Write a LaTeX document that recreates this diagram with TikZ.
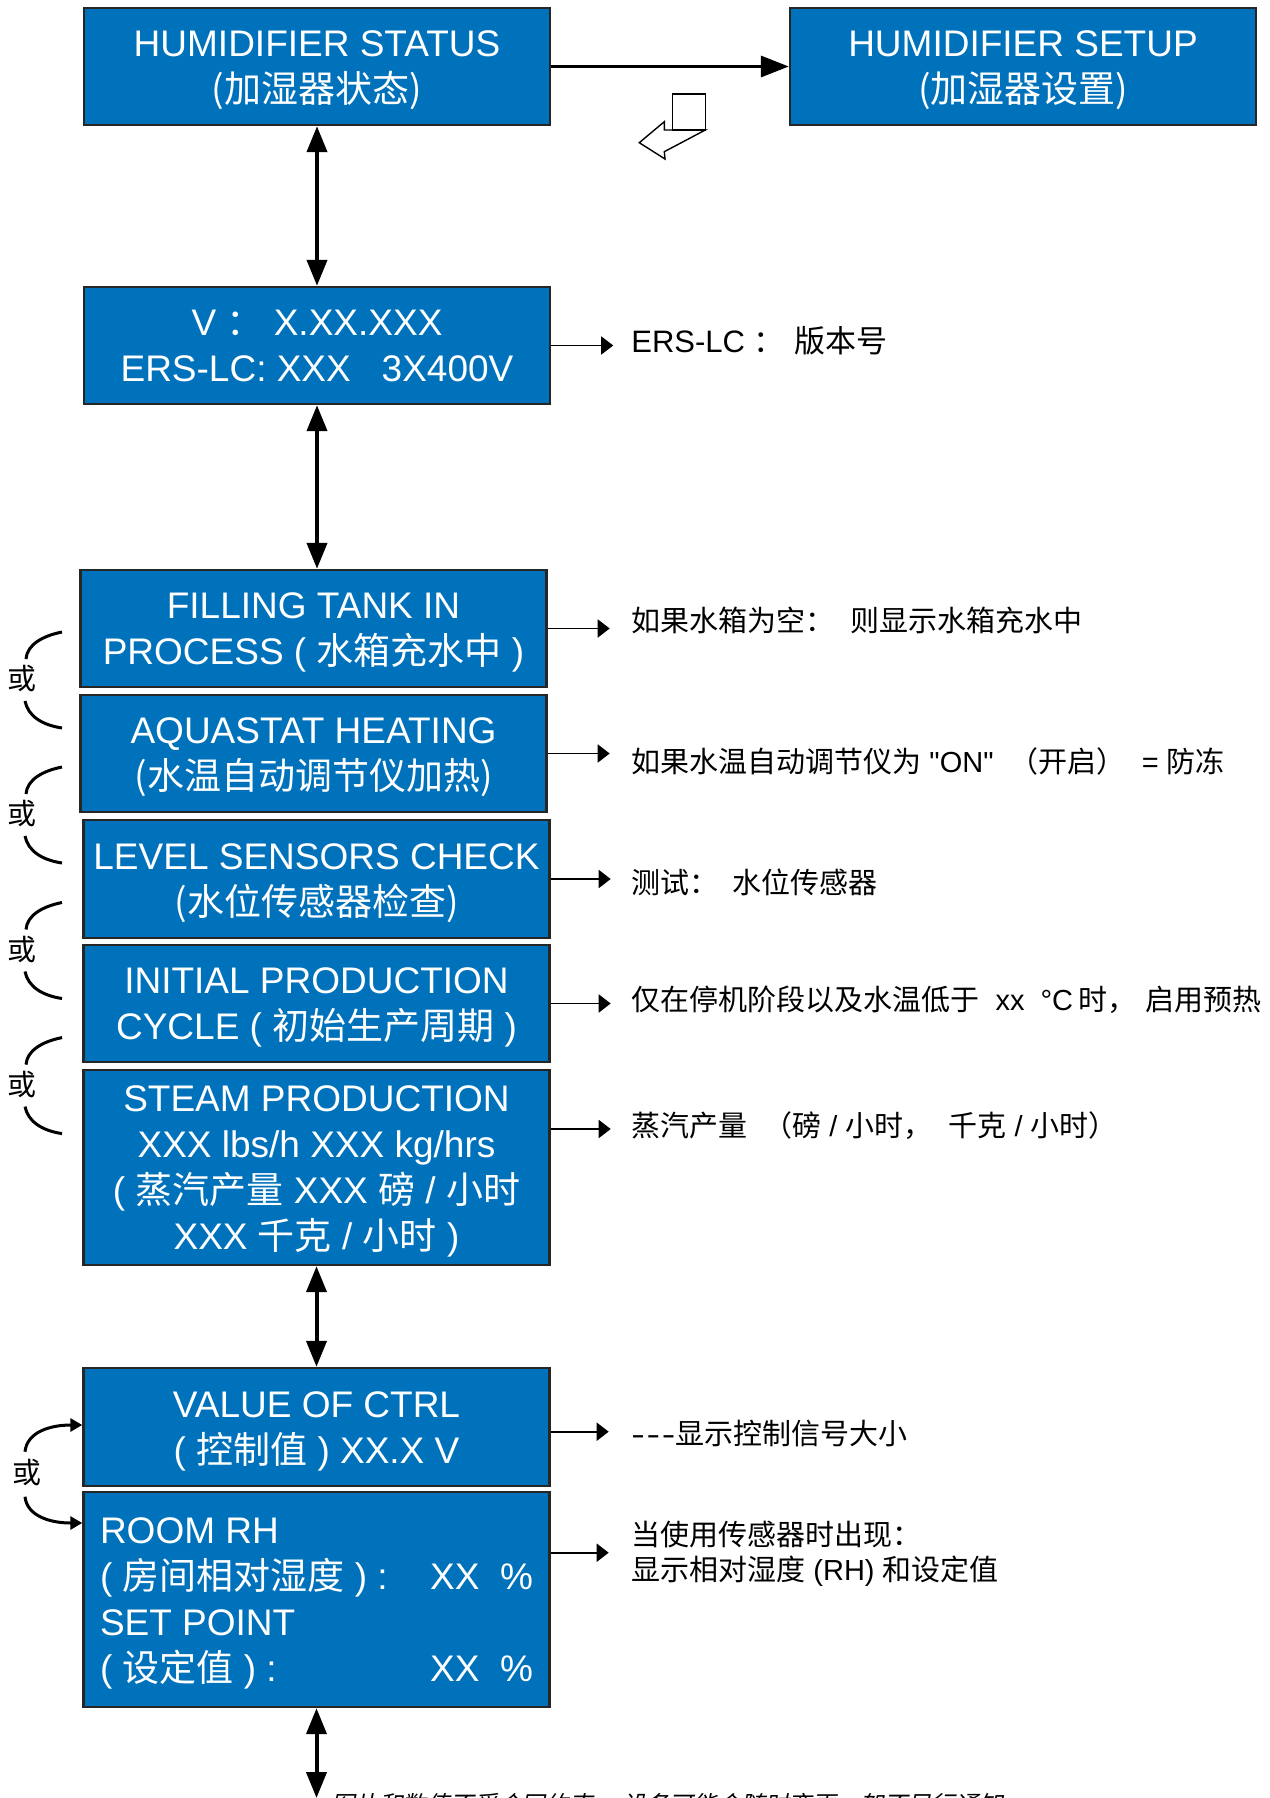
\documentclass[tikz,border=0pt]{standalone}
\usepackage{fontspec}
\setmainfont{Liberation Sans}
\newfontfamily\nolig{Liberation Sans}[Ligatures=TeXOff]
\newfontfamily\cjk{Noto Sans CJK SC}
\newfontfamily\cjkit{Noto Sans CJK SC}[FakeSlant=0.2]
\usetikzlibrary{arrows.meta}
\definecolor{boxblue}{RGB}{0,114,188}
\newcommand\zh[1]{{\cjk #1}}
\begin{document}
\begin{tikzpicture}[x=0.5pt,y=-0.5pt,
  box/.style={draw=black!85, line width=1.2pt, fill=boxblue, text=white,
    inner sep=0pt, minimum width=233pt, minimum height=58.5pt,
    text width=231pt, align=center,
    font=\fontsize{18.5}{23}\selectfont,
    execute at begin node={\centering\spaceskip=0pt\xspaceskip=0pt\rule{0pt}{18pt}},
    execute at end node={\rule[-4.6pt]{0pt}{0pt}}},
  leftbox/.style={box, align=left,
    execute at begin node={\raggedright\spaceskip=0pt\xspaceskip=0pt\rule{0pt}{18pt}}},
  dbl/.style={line width=2pt, {Triangle[length=13pt,width=10pt]}-{Triangle[length=13pt,width=10pt]}},
  onearrow/.style={line width=1.7pt, -{Triangle[length=14pt,width=10.5pt]}},
  sa/.style={line width=0.9pt, -{Triangle[length=6pt,width=9pt]}},
  ca/.style={line width=1.5pt, -{Triangle[length=6pt,width=6.5pt]}},
  br/.style={line width=1.5pt},
  side/.style={anchor=west, inner sep=0pt, align=left, font=\fontsize{14.5}{17.5}\selectfont},
  orlab/.style={inner sep=0pt, font=\cjk\fontsize{14.5}{14.5}\selectfont}
]
\useasboundingbox (0,0) rectangle (1269,1798);

% boxes
\node[box] (b1) at (317,66.5) {HUMIDIFIER STATUS\\\zh{(加湿器状态)}};
\node[box] (b2) at (1023,66.5) {HUMIDIFIER SETUP\\\zh{(加湿器设置)}};
\node[box] (b3) at (317,345.5) {V\ \zh{：}\ X.XX.XXX\\ERS-LC: XXX\ \ \ 3X400V};
\node[box] (b4) at (313.5,628.5) {FILLING TANK IN\\PROCESS ( \zh{水箱充水中} )};
\node[box] (b5) at (313.5,753.5) {AQUASTAT HEATING\\\zh{(水温自动调节仪加热)}};
\node[box, minimum height=59pt] (b6) at (316.5,879) {LEVEL SENSORS CHECK\\\zh{(水位传感器检查)}};
\node[box] (b7) at (316.5,1003.5) {INITIAL PRODUCTION\\CYCLE ( \zh{初始生产周期} )};
\node[box, minimum height=97.5pt] (b8) at (316.5,1167.5) {STEAM PRODUCTION\\XXX lbs/h XXX kg/hrs\\( \zh{蒸汽产量} XXX \zh{磅} / \zh{小时}\\XXX \zh{千克} / \zh{小时} )};
\node[box, minimum height=59pt] (b9) at (316.5,1427) {VALUE OF CTRL\\( \zh{控制值} ) XX.X V};
\node[leftbox, minimum height=107.5pt, text width=216.5pt] (b10) at (316.5,1599.5)
  {ROOM RH\\( \zh{房间相对湿度} ) :\hfill XX\ \ \%\\SET POINT\\( \zh{设定值} ) :\hfill XX\ \ \%};

% main connectors
\draw[onearrow] (b1.east) -- (b2.west);
\draw[dbl] (b1.south) -- (b3.north);
\draw[dbl] (b3.south) -- (b3.south |- b4.north);
\draw[dbl] (b8.south) -- (b9.north);
\coordinate (bot) at (316.5,1798);
\draw[dbl] (b10.south) -- (bot);

% small return icon
\draw[line width=0.7pt] (672.7,94) rectangle (705.3,130);
\draw[line width=0.7pt, line join=miter] (705.3,130) -- (664.3,151.7) -- (665,159) -- (639.3,142.7) -- (664.3,121.7) -- (664.3,130) -- cycle;

% side notes
\node[side, font=\fontsize{15.5}{17.5}\selectfont] (t3) at (631,341) {ERS-LC\ \zh{：}\hspace{5pt}\zh{版本号}};
\node[side] (t4) at (631,620.5) {\zh{如果水箱为空：}\hspace{8pt}\zh{则显示水箱充水中}};
\node[side] (t5) at (631,761) {\zh{如果水温自动调节仪为} {\nolig "ON"}\ \ \zh{（开启）}\ \ =\ \zh{防冻}};
\node[side] (t6) at (631,882.6) {\zh{测试：}\hspace{7pt}\zh{水位传感器}};
\node[side] (t7) at (631,1000) {\zh{仅在停机阶段以及水温低于}\ \ xx\ \ °C\,\zh{时，}\hspace{5pt}\zh{启用预热}};
\node[side] (t8) at (631,1126) {\zh{蒸汽产量}\hspace{8pt}\zh{（磅} / \zh{小时，}\hspace{8pt}\zh{千克} / \zh{小时）}};
\node[side] (t9) at (631,1433) {{\nolig\scalebox{1.4}[1]{-\kern0.6pt-\kern0.6pt-}}\zh{显示控制信号大小}};
\node[side] (t10) at (631,1554) {\zh{当使用传感器时出现：}\\\zh{显示相对湿度} (RH) \zh{和设定值}};

\draw[sa] (b3.east) -- ++(62,0);
\draw[sa] (b4.east) -- ++(62,0);
\draw[sa] (b5.east) -- ++(62,0);
\draw[sa] (b6.east) -- ++(60,0);
\draw[sa] (b7.east) -- ++(60,0);
\draw[sa] ([yshift=19.25pt]b8.east) -- ++(60,0);
\draw[sa] ([yshift=-2.35pt]b9.east) -- ++(58,0);
\draw[sa] ([yshift=23.4pt]b10.east) -- ++(58,0);

% "or" brackets
\foreach \y/\n in {632/1,767/2,902.5/3,1037.6/4}{
  \draw[br] (62,\y) .. controls (42,{\y+4}) and (27,{\y+13}) .. (26,{\y+27});
  \draw[br] (25,{\y+69}) .. controls (28,{\y+84}) and (42,{\y+93}) .. (62,{\y+96});
  \node[orlab] (or\n) at (22,{\y+47}) {或};
}

% or arrows for b9/b10
\draw[ca] (25,1451.7) .. controls (27,1432) and (50,1425) .. (b9.west |- 0,1425);
\draw[ca] (25,1496.7) .. controls (27,1516) and (50,1523) .. (b10.west |- 0,1523);
\node[orlab] (or5) at (26.7,1473) {或};

% footer note (cut by page edge, as in the reference)
\node[anchor=west, inner sep=0pt, font=\cjkit\fontsize{11.9}{12}\selectfont] (note) at (331,1805)
  {图片和数值不受合同约束， 设备可能会随时变更，恕不另行通知};
\end{tikzpicture}
\end{document}
